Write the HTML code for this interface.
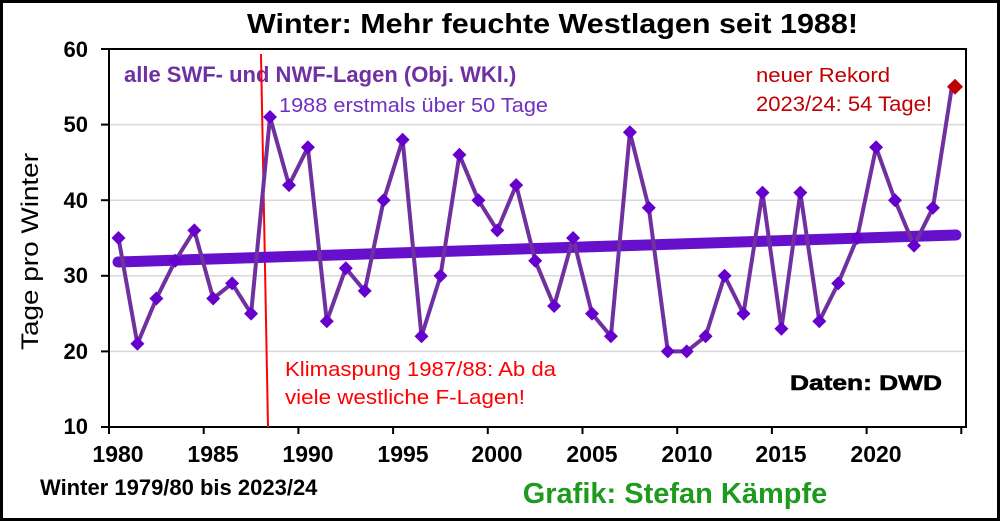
<!DOCTYPE html>
<html><head><meta charset="utf-8"><style>
html,body{margin:0;padding:0;background:#fff}
svg{display:block}
text{font-family:"Liberation Sans",Arial,sans-serif}
</style></head><body>
<svg width="1000" height="521" viewBox="0 0 1000 521" xmlns="http://www.w3.org/2000/svg">
<rect x="1.5" y="1.5" width="997" height="518" fill="#fff" stroke="#000" stroke-width="3"/>
<text x="247" y="33" font-size="28" font-weight="bold" textLength="611" lengthAdjust="spacingAndGlyphs">Winter: Mehr feuchte Westlagen seit 1988!</text>
<g stroke="#d9d9d9" stroke-width="1.5">
<line x1="109" x2="966" y1="351.4" y2="351.4"/><line x1="109" x2="966" y1="275.8" y2="275.8"/>
<line x1="109" x2="966" y1="200.2" y2="200.2"/><line x1="109" x2="966" y1="124.6" y2="124.6"/>
</g>
<rect x="109" y="49" width="857" height="378" fill="none" stroke="#000" stroke-width="2"/>
<g stroke="#000" stroke-width="2">
<line x1="101" x2="109" y1="49" y2="49"/><line x1="101" x2="109" y1="124.6" y2="124.6"/><line x1="101" x2="109" y1="200.2" y2="200.2"/><line x1="101" x2="109" y1="275.8" y2="275.8"/><line x1="101" x2="109" y1="351.4" y2="351.4"/><line x1="101" x2="109" y1="427" y2="427"/>
<line x1="109" x2="109" y1="427" y2="434"/><line x1="203.7" x2="203.7" y1="427" y2="434"/><line x1="298.4" x2="298.4" y1="427" y2="434"/><line x1="393.1" x2="393.1" y1="427" y2="434"/><line x1="487.8" x2="487.8" y1="427" y2="434"/><line x1="582.5" x2="582.5" y1="427" y2="434"/><line x1="677.2" x2="677.2" y1="427" y2="434"/><line x1="771.9" x2="771.9" y1="427" y2="434"/><line x1="866.6" x2="866.6" y1="427" y2="434"/><line x1="961.3" x2="961.3" y1="427" y2="434"/>
</g>
<g font-size="22" font-weight="bold" text-anchor="end">
<text x="88" y="57">60</text><text x="88" y="132">50</text><text x="88" y="208">40</text><text x="88" y="283">30</text><text x="88" y="359">20</text><text x="88" y="434">10</text>
</g>
<g font-size="23" font-weight="bold" text-anchor="middle">
<text x="118" y="462">1980</text><text x="213" y="462">1985</text><text x="308" y="462">1990</text><text x="403" y="462">1995</text><text x="497" y="462">2000</text><text x="592" y="462">2005</text><text x="687" y="462">2010</text><text x="781" y="462">2015</text><text x="876" y="462">2020</text>
</g>
<text transform="translate(38,350) rotate(-90)" font-size="24" textLength="197" lengthAdjust="spacingAndGlyphs">Tage pro Winter</text>
<text x="40" y="495" font-size="22" font-weight="bold">Winter 1979/80 bis 2023/24</text>
<text x="675" y="503" font-size="29" font-weight="bold" fill="#1e9a1e" text-anchor="middle">Grafik: Stefan Kämpfe</text>
<text x="124" y="82" font-size="22" font-weight="bold" fill="#7030a0">alle SWF- und NWF-Lagen (Obj. WKl.)</text>
<line x1="261" x2="268" y1="54" y2="427" stroke="#ff0000" stroke-width="2"/>
<text x="279" y="112" font-size="20" fill="#7030c0" textLength="269" lengthAdjust="spacingAndGlyphs">1988 erstmals über 50 Tage</text>
<text x="285" y="376" font-size="20" fill="#ff0000" textLength="271" lengthAdjust="spacingAndGlyphs">Klimaspung 1987/88: Ab da</text>
<text x="285" y="404" font-size="20" fill="#ff0000" textLength="240" lengthAdjust="spacingAndGlyphs">viele westliche F-Lagen!</text>
<text x="756" y="82" font-size="20" fill="#c00000" textLength="134" lengthAdjust="spacingAndGlyphs">neuer Rekord</text>
<text x="756" y="111" font-size="21" fill="#c00000" textLength="176" lengthAdjust="spacingAndGlyphs">2023/24: 54 Tage!</text>
<text x="790" y="390" font-size="21" font-weight="900" textLength="152" lengthAdjust="spacingAndGlyphs" stroke="#000" stroke-width="0.6">Daten: DWD</text>
<line x1="118" y1="262" x2="956" y2="235" stroke="#6610cc" stroke-width="11" stroke-linecap="round"/>
<polyline fill="none" stroke="#7030a0" stroke-width="4" stroke-linejoin="round" points="118.5,238.0 137.4,343.8 156.4,298.5 175.3,260.7 194.3,230.4 213.2,298.5 232.1,283.4 251.1,313.6 270.0,117.0 289.0,185.1 307.9,147.3 326.8,321.2 345.8,268.2 364.7,290.9 383.7,200.2 402.6,139.7 421.5,336.3 440.5,275.8 459.4,154.8 478.4,200.2 497.3,230.4 516.2,185.1 535.2,260.7 554.1,306.0 573.1,238.0 592.0,313.6 610.9,336.3 629.9,132.2 648.8,207.8 667.8,351.4 686.7,351.4 705.6,336.3 724.6,275.8 743.5,313.6 762.5,192.6 781.4,328.7 800.3,192.6 819.3,321.2 838.2,283.4 857.2,238.0 876.1,147.3 895.0,200.2 914.0,245.6 932.9,207.8 951.9,86.8"/>
<g fill="#6600cc">
<path d="M118.5 231l7 7-7 7-7-7z"/><path d="M137.4 336.8l7 7-7 7-7-7z"/><path d="M156.4 291.5l7 7-7 7-7-7z"/><path d="M175.3 253.7l7 7-7 7-7-7z"/><path d="M194.3 223.4l7 7-7 7-7-7z"/><path d="M213.2 291.5l7 7-7 7-7-7z"/><path d="M232.1 276.4l7 7-7 7-7-7z"/><path d="M251.1 306.6l7 7-7 7-7-7z"/><path d="M270 110l7 7-7 7-7-7z"/><path d="M289 178.1l7 7-7 7-7-7z"/><path d="M307.9 140.3l7 7-7 7-7-7z"/><path d="M326.8 314.2l7 7-7 7-7-7z"/><path d="M345.8 261.2l7 7-7 7-7-7z"/><path d="M364.7 283.9l7 7-7 7-7-7z"/><path d="M383.7 193.2l7 7-7 7-7-7z"/><path d="M402.6 132.7l7 7-7 7-7-7z"/><path d="M421.5 329.3l7 7-7 7-7-7z"/><path d="M440.5 268.8l7 7-7 7-7-7z"/><path d="M459.4 147.8l7 7-7 7-7-7z"/><path d="M478.4 193.2l7 7-7 7-7-7z"/><path d="M497.3 223.4l7 7-7 7-7-7z"/><path d="M516.2 178.1l7 7-7 7-7-7z"/><path d="M535.2 253.7l7 7-7 7-7-7z"/><path d="M554.1 299l7 7-7 7-7-7z"/><path d="M573.1 231l7 7-7 7-7-7z"/><path d="M592 306.6l7 7-7 7-7-7z"/><path d="M610.9 329.3l7 7-7 7-7-7z"/><path d="M629.9 125.2l7 7-7 7-7-7z"/><path d="M648.8 200.8l7 7-7 7-7-7z"/><path d="M667.8 344.4l7 7-7 7-7-7z"/><path d="M686.7 344.4l7 7-7 7-7-7z"/><path d="M705.6 329.3l7 7-7 7-7-7z"/><path d="M724.6 268.8l7 7-7 7-7-7z"/><path d="M743.5 306.6l7 7-7 7-7-7z"/><path d="M762.5 185.6l7 7-7 7-7-7z"/><path d="M781.4 321.7l7 7-7 7-7-7z"/><path d="M800.3 185.6l7 7-7 7-7-7z"/><path d="M819.3 314.2l7 7-7 7-7-7z"/><path d="M838.2 276.4l7 7-7 7-7-7z"/><path d="M857.2 231l7 7-7 7-7-7z"/><path d="M876.1 140.3l7 7-7 7-7-7z"/><path d="M895 193.2l7 7-7 7-7-7z"/><path d="M914 238.6l7 7-7 7-7-7z"/><path d="M932.9 200.8l7 7-7 7-7-7z"/>
</g>
<path d="M955 78.8l8 8-8 8-8-8z" fill="#c00000"/>
</svg>
</body></html>
